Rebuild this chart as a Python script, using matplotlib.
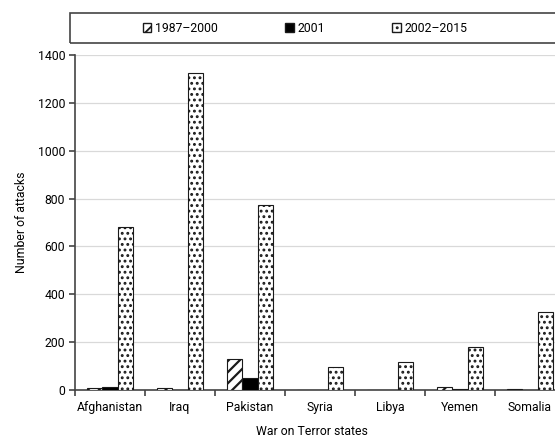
import numpy as np
import matplotlib
matplotlib.use("Agg")
import matplotlib.pyplot as plt
from matplotlib.patches import Rectangle, Patch

plt.rcParams['font.family'] = ['Roboto', 'DejaVu Sans']
plt.rcParams['hatch.linewidth'] = 1.6

states = ["Afghanistan", "Iraq", "Pakistan", "Syria", "Libya", "Yemen", "Somalia"]
attacks_1987_2000 = [10, 9, 130, 1, 2, 12, 3]
attacks_2001 = [14, 1, 50, 0, 0, 5, 0]
attacks_2002_2015 = [683, 1325, 775, 96, 118, 180, 325]
periods = ["1987\u20132000", "2001", "2002\u20132015"]
yticks = [0, 200, 400, 600, 800, 1000, 1200, 1400]

fig = plt.figure(figsize=(5.55, 4.38), dpi=100)
ax = fig.add_axes([75 / 555, 48 / 438, 490 / 555, 335 / 438])

x = np.arange(len(states))
w = 0.215
edge = '#1a1a1a'

ax.bar(x - w, attacks_1987_2000, w, color='white', edgecolor=edge, hatch='///', linewidth=0.8, zorder=3)
ax.bar(x, attacks_2001, w, color='black', edgecolor=edge, linewidth=0.8, zorder=3)
plt.rcParams['hatch.linewidth'] = 1.3
ax.bar(x + w, attacks_2002_2015, w, color='white', edgecolor=edge, hatch='...', linewidth=0.8, zorder=3)

ax.set_xlim(-0.5, len(states) - 0.5)
ax.set_ylim(0, 1400)
ax.set_yticks(yticks)
ax.yaxis.grid(True, color='#d9d9d9', linewidth=0.9, zorder=0)
ax.set_axisbelow(True)

fs = 8.8
ax.set_xticks(x)
ax.set_xticklabels(states, fontsize=fs)
ax.tick_params(axis='x', length=0, pad=8)
ax.set_xticks(np.arange(len(states) + 1) - 0.5, minor=True)
ax.tick_params(axis='x', which='minor', length=4, width=1.2, color='#444444', direction='out')
ax.tick_params(axis='y', length=4, width=1.2, color='#444444', labelsize=fs, pad=3)

for s in ['top', 'right']:
    ax.spines[s].set_visible(False)
for s in ['left', 'bottom']:
    ax.spines[s].set_color('#444444')
    ax.spines[s].set_linewidth(1.2)

ax.set_ylabel("Number of attacks", fontsize=fs, labelpad=7)
ax.set_xlabel("War on Terror states", fontsize=fs)
ax.xaxis.set_label_coords((312 - 75) / 490, -0.105)

# legend box
fig.patches.append(Rectangle((70 / 555, 1 - 43 / 438), 520 / 555, 30 / 438,
                             transform=fig.transFigure, fill=False,
                             edgecolor='#444444', linewidth=1.2))
handles = [Patch(facecolor='white', edgecolor=edge, hatch='///'),
           Patch(facecolor='black', edgecolor=edge),
           Patch(facecolor='white', edgecolor=edge, hatch='...')]
fig.legend(handles, periods, loc='center', bbox_to_anchor=(305 / 555, 1 - 28 / 438),
           ncol=3, frameon=False, fontsize=fs, handlelength=0.7, handleheight=0.7,
           handletextpad=0.3, columnspacing=5.5)

fig.savefig("out.png", dpi=100)
